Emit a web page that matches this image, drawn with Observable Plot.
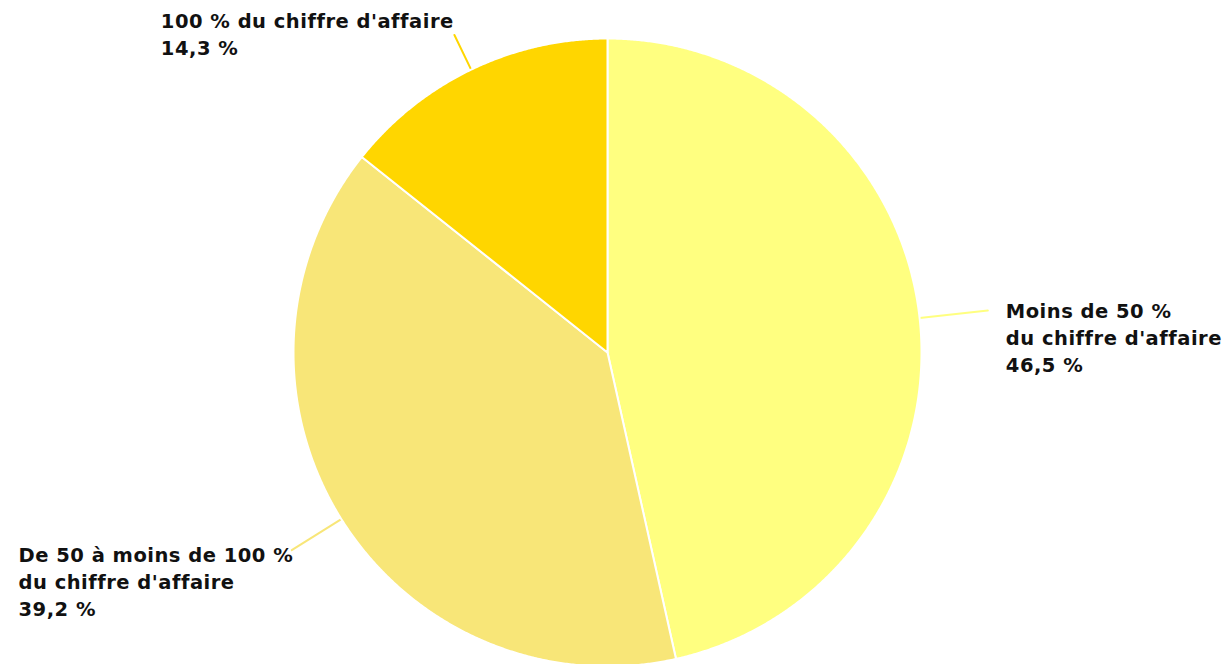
<!DOCTYPE html>
<html>
<head>
<meta charset="utf-8">
<script src="https://cdn.jsdelivr.net/npm/d3@7"></script>
<script src="https://cdn.jsdelivr.net/npm/@observablehq/plot@0.6"></script>
<style>
  html, body { margin: 0; padding: 0; background: #fff; }
  #chart svg { display: block; }
  #chart svg text { letter-spacing: 0.5px; }
</style>
</head>
<body>
<div id="chart"></div>
<script>
// ---- Data ----
const categories = ["Moins de 50 %\ndu chiffre d'affaire", "De 50 à moins de 100 %\ndu chiffre d'affaire", "100 % du chiffre d'affaire"];
const values = [46.5, 39.2, 14.3];
const valueLabels = ["46,5 %", "39,2 %", "14,3 %"];
const colors = ["#ffff80", "#f8e678", "#ffd600"];

// ---- Layout ----
const W = 1227, H = 664;
const cx = 607, cy = 352, R = 314;     // pixel centre/radius of the pie
const fontSize = 19.5, lineH = 27 / 19.5, spacing = 0.5;
const font = `bold ${fontSize}px "DejaVu Sans"`;

const pie = d3.pie().sort(null).value(d => d.value)(
  values.map((v, i) => ({value: v, name: categories[i], label: valueLabels[i], color: colors[i]}))
);

const ctx = document.createElement("canvas").getContext("2d");
ctx.font = font;
const textWidth = s => d3.max(s.split("\n"), l => ctx.measureText(l).width + spacing * (l.length - 1));

const slices = pie.map(p => {
  const pts = [{x: 0, y: 0}];
  const n = Math.max(2, Math.ceil((p.endAngle - p.startAngle) / 0.005));
  for (let k = 0; k <= n; k++) {
    const a = p.startAngle + (p.endAngle - p.startAngle) * k / n;
    pts.push({x: Math.sin(a), y: Math.cos(a)});
  }
  pts.push({x: 0, y: 0});
  const mid = (p.startAngle + p.endAngle) / 2;
  const s = Math.sin(mid), c = Math.cos(mid);
  const right = s > 0;
  const lr = 1.1 + 0.12 * s * s;
  const ex = s * lr, ey = c * lr;
  const text = p.data.name + "\n" + p.data.label;
  const tx = right ? ex + 18 / R : ex - (textWidth(text) - 1 + 5 * Math.max(c, 0)) / R;
  const ty = ey - (4 - 19 * Math.max(c, 0) + 5 * Math.max(-c, 0)) / R;
  return {
    pts, color: p.data.color,
    conn: [{x: s, y: c}, {x: ex, y: ey}],
    lab: {x: tx, y: ty, text}
  };
});

const chart = Plot.plot({
  width: W, height: H,
  margin: 0,
  x: {domain: [-cx / R, (W - cx) / R], range: [0, W], axis: null},
  y: {domain: [-(H - cy) / R, cy / R], range: [H, 0], axis: null},
  style: {fontFamily: "DejaVu Sans", background: "white"},
  marks: [
    slices.map(s => Plot.line(s.conn, {x: "x", y: "y", stroke: s.color, strokeWidth: 2})),
    slices.map(s => Plot.line(s.pts, {x: "x", y: "y", fill: s.color, stroke: "white", strokeWidth: 2, strokeLinejoin: "round"})),
    Plot.text(slices.map(s => s.lab), {
      x: "x", y: "y", text: "text",
      textAnchor: "start", lineAnchor: "top", lineHeight: lineH,
      dy: -fontSize * lineH / 2,
      fontSize, fontWeight: "bold", fill: "#111"
    })
  ]
});
document.getElementById("chart").append(chart);
</script>
</body>
</html>
